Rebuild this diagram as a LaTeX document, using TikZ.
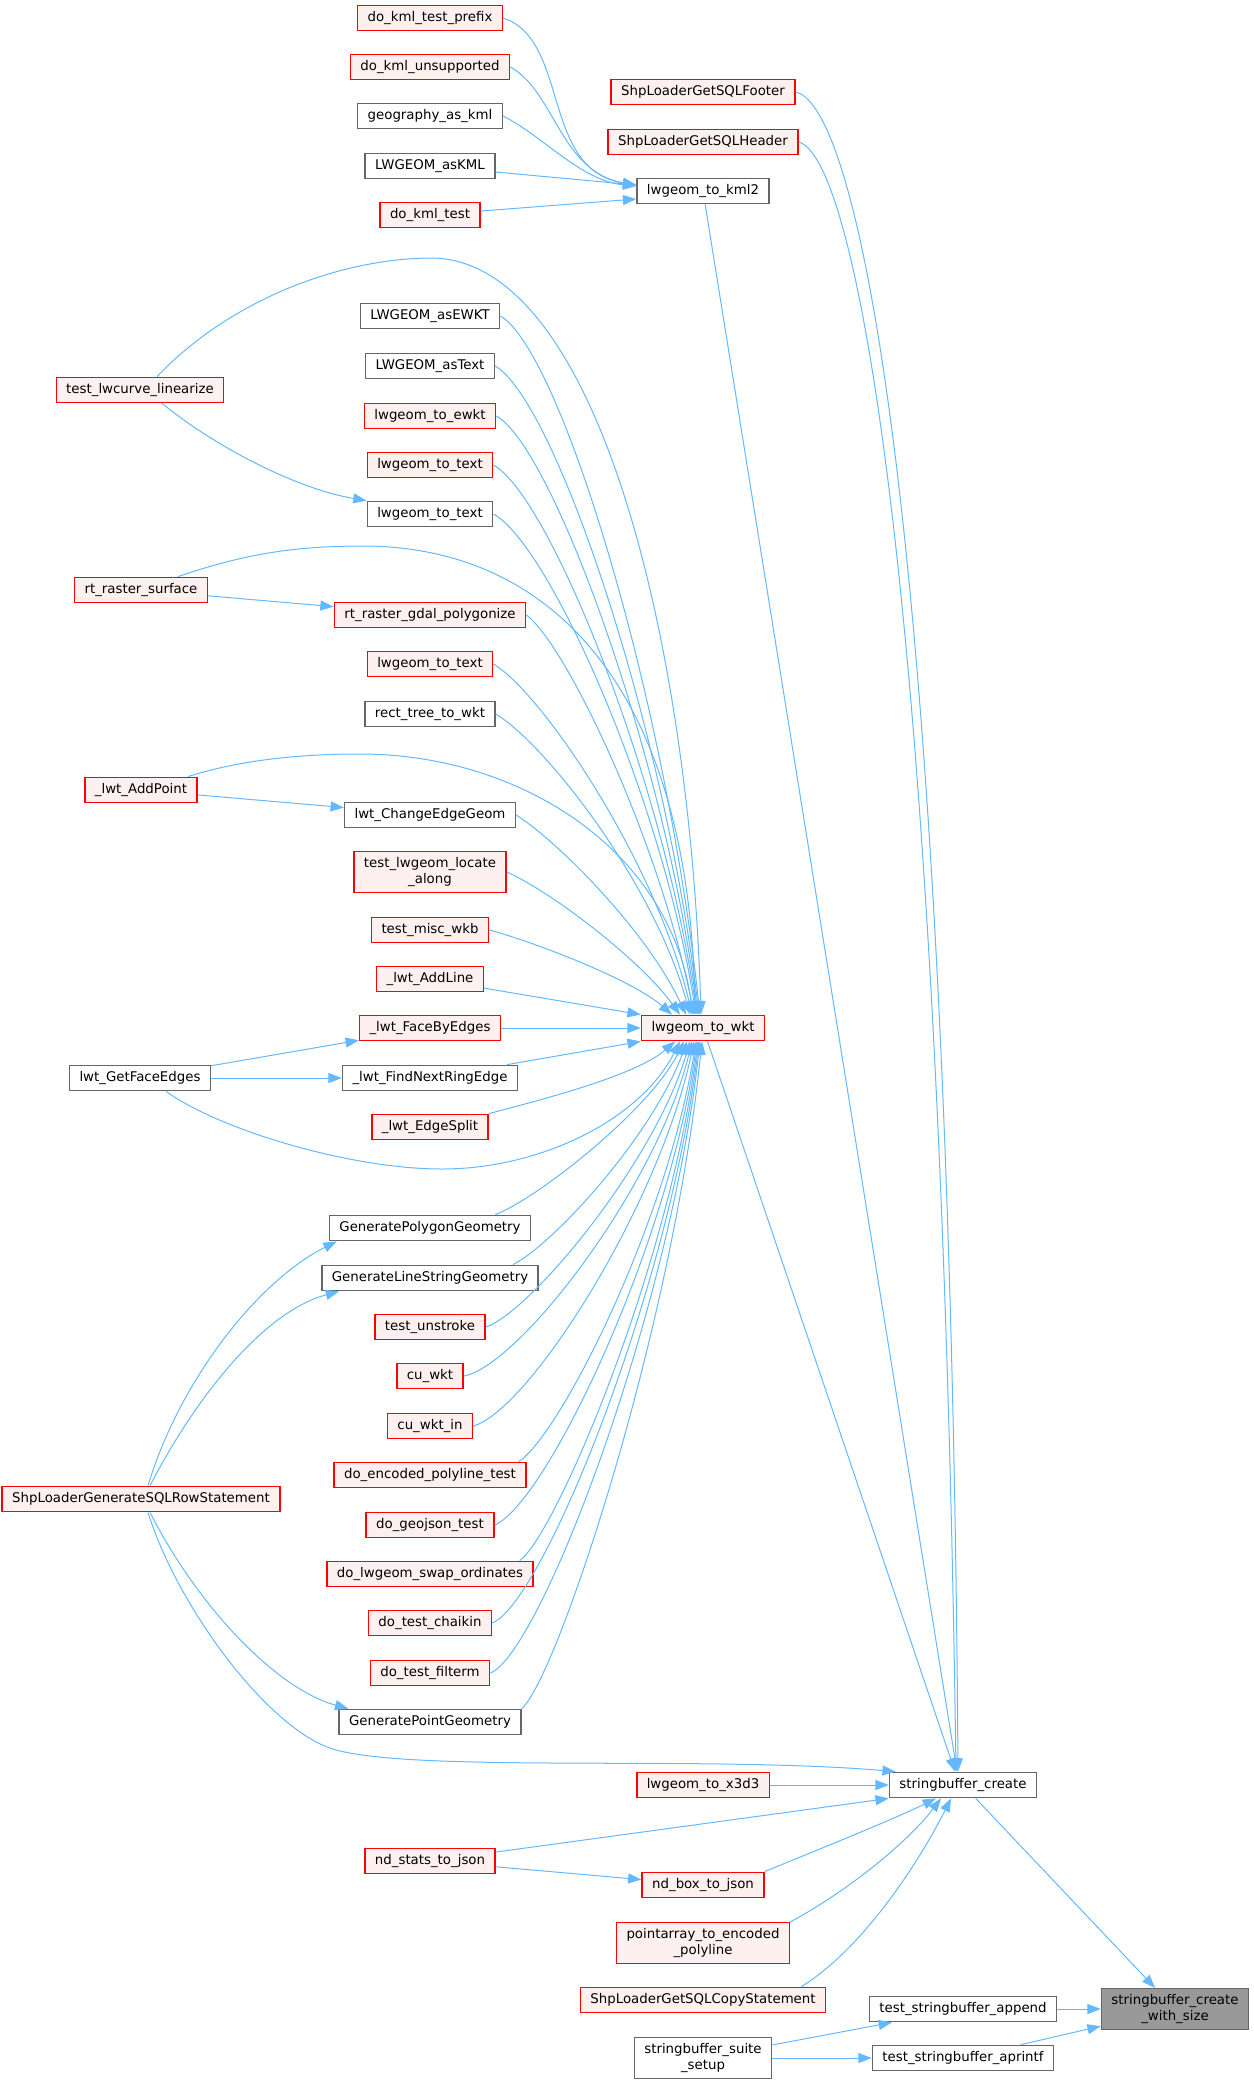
\documentclass[tikz,border=0pt]{standalone}
\usepackage{fontspec}
\setmainfont{DejaVu Sans}
\usetikzlibrary{arrows.meta,calc}
\definecolor{callblue}{HTML}{63B8FF}
\definecolor{boxred}{HTML}{FF0000}
\definecolor{boxpink}{HTML}{FFF0F0}
\definecolor{boxgray}{HTML}{666666}
\definecolor{rootfill}{HTML}{999999}
\tikzset{
  fnbox/.style={draw, rectangle, line width=1.1pt, inner xsep=7.5pt, inner ysep=4.5pt,
    minimum height=19pt, align=center, font=\fontsize{10}{11.5}\selectfont},
  redbox/.style={fnbox, draw=boxred, fill=boxpink},
  whitebox/.style={fnbox, draw=boxgray, fill=white},
  rootbox/.style={fnbox, draw=boxgray, fill=rootfill},
  callarrow/.style={draw=callblue, line width=0.75pt, -{Triangle[length=10pt,width=7.5pt]}}
}
\begin{document}
\begin{tikzpicture}[x=0.75pt, y=-0.75pt]
  \useasboundingbox (0,0) rectangle (1253,2083);
  % left column
  \node[redbox] (lwcurve) at (140,390) {test\_lwcurve\_linearize};
  \node[redbox] (rtsurface) at (141,590) {rt\_raster\_surface};
  \node[redbox] (addpoint) at (141,790) {\_lwt\_AddPoint};
  \node[whitebox] (getfaceedges) at (140,1078) {lwt\_GetFaceEdges};
  \node[redbox] (sqlrow) at (141,1499) {ShpLoaderGenerateSQLRowStatement};
  % callers of lwgeom_to_kml2 and lwgeom_to_wkt
  \node[redbox] (kmlprefix) at (430,18) {do\_kml\_test\_prefix};
  \node[redbox] (kmlunsup) at (430,67) {do\_kml\_unsupported};
  \node[whitebox] (geokml) at (430,116) {geography\_as\_kml};
  \node[whitebox] (askml) at (430,166) {LWGEOM\_asKML};
  \node[redbox] (kmltest) at (430,215) {do\_kml\_test};
  \node[whitebox] (asewkt) at (430,316) {LWGEOM\_asEWKT};
  \node[whitebox] (astext) at (430,366) {LWGEOM\_asText};
  \node[redbox] (toewkt) at (430,416) {lwgeom\_to\_ewkt};
  \node[redbox] (totexta) at (430,465) {lwgeom\_to\_text};
  \node[whitebox] (totextb) at (430,514) {lwgeom\_to\_text};
  \node[redbox] (polygonize) at (430,615) {rt\_raster\_gdal\_polygonize};
  \node[redbox] (totextc) at (430,664) {lwgeom\_to\_text};
  \node[whitebox] (recttree) at (430,714) {rect\_tree\_to\_wkt};
  \node[whitebox] (changeedge) at (430,815) {lwt\_ChangeEdgeGeom};
  \node[redbox] (locatealong) at (430,872) {test\_lwgeom\_locate\\\_along};
  \node[redbox] (miscwkb) at (430,930) {test\_misc\_wkb};
  \node[redbox] (addline) at (430,979) {\_lwt\_AddLine};
  \node[redbox] (facebyedges) at (430,1028) {\_lwt\_FaceByEdges};
  \node[whitebox] (findring) at (430,1078) {\_lwt\_FindNextRingEdge};
  \node[redbox] (edgesplit) at (430,1127) {\_lwt\_EdgeSplit};
  \node[whitebox] (genpoly) at (430,1228) {GeneratePolygonGeometry};
  \node[whitebox] (genline) at (430,1278) {GenerateLineStringGeometry};
  \node[redbox] (unstroke) at (430,1327) {test\_unstroke};
  \node[redbox] (cuwkt) at (430,1376) {cu\_wkt};
  \node[redbox] (cuwktin) at (430,1426) {cu\_wkt\_in};
  \node[redbox] (encpoly) at (430,1475) {do\_encoded\_polyline\_test};
  \node[redbox] (geojson) at (430,1525) {do\_geojson\_test};
  \node[redbox] (swapord) at (430,1574) {do\_lwgeom\_swap\_ordinates};
  \node[redbox] (chaikin) at (430,1623) {do\_test\_chaikin};
  \node[redbox] (filterm) at (430,1673) {do\_test\_filterm};
  \node[whitebox] (genpoint) at (430,1722) {GeneratePointGeometry};
  \node[redbox] (ndstats) at (430,1861) {nd\_stats\_to\_json};
  % middle column
  \node[redbox] (sqlfooter) at (703,92) {ShpLoaderGetSQLFooter};
  \node[redbox] (sqlheader) at (703,142) {ShpLoaderGetSQLHeader};
  \node[whitebox] (tokml) at (703,191) {lwgeom\_to\_kml2};
  \node[redbox] (towkt) at (703,1028) {lwgeom\_to\_wkt};
  \node[redbox] (tox3d) at (703,1785) {lwgeom\_to\_x3d3};
  \node[redbox] (ndbox) at (703,1885) {nd\_box\_to\_json};
  \node[redbox] (ptarray) at (703,1943) {pointarray\_to\_encoded\\\_polyline};
  \node[redbox] (sqlcopy) at (703,2000) {ShpLoaderGetSQLCopyStatement};
  \node[whitebox] (suitesetup) at (703,2058) {stringbuffer\_suite\\\_setup};
  % right columns
  \node[whitebox] (sbcreate) at (963,1785) {stringbuffer\_create};
  \node[whitebox] (sbappend) at (963,2009) {test\_stringbuffer\_append};
  \node[whitebox] (sbaprintf) at (963,2058) {test\_stringbuffer\_aprintf};
  \node[rootbox] (sbsize) at (1175,2009) {stringbuffer\_create\\\_with\_size};

  % into lwgeom_to_kml2
  \draw[callarrow] (kmlprefix.east) .. controls +(67,22) and +(-96,-15) .. ($(tokml.west)+(0,-6)$);
  \draw[callarrow] (kmlunsup.east) .. controls +(45,25) and +(-76,-13) .. ($(tokml.west)+(0,-6)$);
  \draw[callarrow] (geokml.east) .. controls +(40,20) and +(-55,-5) .. ($(tokml.west)+(0,-5)$);
  \draw[callarrow] (askml) -- ($(tokml.west)+(0,-6)$);
  \draw[callarrow] (kmltest) -- ($(tokml.west)+(0,8)$);

  % into lwgeom_to_wkt, from above
  \draw[callarrow] ($(lwcurve.north)+(17,0)$) .. controls (230,300) and (340,258) .. (433,258)
    .. controls (600,262) and (690,650) .. ($(towkt.north)+(-2,0)$);
  \draw[callarrow] (asewkt.east) .. controls +(60,35) and +(-35,-320) .. ($(towkt.north)+(-3,0)$);
  \draw[callarrow] (astext.east) .. controls +(60,35) and +(-35,-290) .. ($(towkt.north)+(-4,0)$);
  \draw[callarrow] (toewkt.east) .. controls +(55,30) and +(-35,-265) .. ($(towkt.north)+(-5,0)$);
  \draw[callarrow] (totexta.east) .. controls +(55,30) and +(-35,-240) .. ($(towkt.north)+(-6,0)$);
  \draw[callarrow] (totextb.east) .. controls +(55,30) and +(-35,-220) .. ($(towkt.north)+(-7,0)$);
  \draw[callarrow] ($(rtsurface.north)+(37,0)$) .. controls (250,552) and (300,546) .. (366,546)
    .. controls (560,548) and (690,700) .. ($(towkt.north)+(-8,0)$);
  \draw[callarrow] (polygonize.east) .. controls +(40,30) and +(-35,-175) .. ($(towkt.north)+(-9,0)$);
  \draw[callarrow] (totextc.east) .. controls +(50,30) and +(-35,-150) .. ($(towkt.north)+(-11,0)$);
  \draw[callarrow] (recttree.east) .. controls +(50,30) and +(-35,-130) .. ($(towkt.north)+(-13,0)$);
  \draw[callarrow] ($(addpoint.north)+(47,0)$) .. controls (240,760) and (300,754) .. (360,754)
    .. controls (520,754) and (670,850) .. ($(towkt.north)+(-10,0)$);
  \draw[callarrow] (changeedge.east) .. controls +(40,25) and +(-40,-85) .. ($(towkt.north)+(-17,0)$);
  \draw[callarrow] (locatealong.east) .. controls +(45,20) and +(-40,-55) .. ($(towkt.north)+(-23,0)$);
  \draw[callarrow] (miscwkb.east) .. controls +(45,12) and +(-40,-35) .. ($(towkt.north)+(-31,0)$);
  \draw[callarrow] (addline) -- (towkt.north west);
  \draw[callarrow] (facebyedges) -- (towkt);
  \draw[callarrow] (findring) -- (towkt.south west);

  % into lwgeom_to_wkt, from below
  \draw[callarrow] (edgesplit.north east) .. controls +(45,-12) and +(-40,35) .. ($(towkt.south)+(-28,0)$);
  \draw[callarrow] ($(getfaceedges.south)+(26,0)$) .. controls (220,1130) and (350,1169) .. (442,1169)
    .. controls (540,1169) and (640,1120) .. ($(towkt.south)+(-23,0)$);
  \draw[callarrow] ($(genpoly.north east)+(-36,0)$) .. controls +(40,-15) and +(-35,70) .. ($(towkt.south)+(-19,0)$);
  \draw[callarrow] ($(genline.north east)+(-26,0)$) .. controls +(40,-20) and +(-35,95) .. ($(towkt.south)+(-16,0)$);
  \draw[callarrow] (unstroke.east) .. controls +(45,-15) and +(-35,120) .. ($(towkt.south)+(-13,0)$);
  \draw[callarrow] (cuwkt.east) .. controls +(55,-10) and +(-35,145) .. ($(towkt.south)+(-11,0)$);
  \draw[callarrow] (cuwktin.east) .. controls +(55,-15) and +(-35,165) .. ($(towkt.south)+(-9,0)$);
  \draw[callarrow] ($(encpoly.north east)+(-8,0)$) .. controls +(40,-25) and +(-30,185) .. ($(towkt.south)+(-7,0)$);
  \draw[callarrow] (geojson.east) .. controls +(50,-20) and +(-30,210) .. ($(towkt.south)+(-6,0)$);
  \draw[callarrow] ($(swapord.north east)+(-14,0)$) .. controls +(35,-25) and +(-30,230) .. ($(towkt.south)+(-5,0)$);
  \draw[callarrow] (chaikin.east) .. controls +(50,-20) and +(-30,250) .. ($(towkt.south)+(-4,0)$);
  \draw[callarrow] (filterm.east) .. controls +(50,-20) and +(-30,270) .. ($(towkt.south)+(-3,0)$);
  \draw[callarrow] (genpoint.north east) .. controls +(35,-30) and +(-30,290) .. ($(towkt.south)+(-1,0)$);

  % second level callers
  \draw[callarrow] ($(lwcurve.south)+(22,0)$) .. controls +(58,47) and +(-66,-11) .. (totextb.north west);
  \draw[callarrow] (rtsurface) -- (polygonize);
  \draw[callarrow] (addpoint) -- (changeedge);
  \draw[callarrow] (getfaceedges) -- (facebyedges);
  \draw[callarrow] (getfaceedges) -- (findring);
  \draw[callarrow] ($(sqlrow.north)+(7,0)$) .. controls +(32,-106) and +(-78,39) .. ($(genpoly.south west)+(8,0)$);
  \draw[callarrow] ($(sqlrow.north)+(9,0)$) .. controls +(50,-96) and +(-72,19) .. ($(genline.south west)+(18,0)$);
  \draw[callarrow] ($(sqlrow.south)+(9,0)$) .. controls +(50,98) and +(-70,-19) .. ($(genpoint.north west)+(10,0)$);
  \draw[callarrow] ($(sqlrow.south)+(7,0)$) .. controls (175,1600) and (260,1720) .. (327,1747)
    .. controls (395,1774) and (700,1755) .. ($(sbcreate.north west)+(7,0)$);
  \draw[callarrow] (ndstats) -- (ndbox);

  % into stringbuffer_create
  \draw[callarrow] (sqlfooter.east) .. controls +(70,15) and +(-8,-1172) .. ($(sbcreate.north)+(-5,0)$);
  \draw[callarrow] (sqlheader.east) .. controls +(60,15) and +(-16,-1152) .. ($(sbcreate.north)+(-7,0)$);
  \draw[callarrow] (tokml) -- ($(sbcreate.north)+(-6,0)$);
  \draw[callarrow] (towkt) -- ($(sbcreate.north)+(-8,0)$);
  \draw[callarrow] (tox3d) -- (sbcreate);
  \draw[callarrow] (ndstats) -- (sbcreate.south west);
  \draw[callarrow] (ndbox.north east) .. controls +(56,-23) and +(-45,22) .. ($(sbcreate.south)+(-27,0)$);
  \draw[callarrow] (ptarray.north east) .. controls +(61,-33) and +(-32,42) .. ($(sbcreate.south)+(-22,0)$);
  \draw[callarrow] ($(sqlcopy.north east)+(-25,0)$) .. controls +(62,-38) and +(-31,62) .. ($(sbcreate.south)+(-12,0)$);

  % into stringbuffer_create_with_size
  \draw[callarrow] (sbcreate) -- (sbsize);
  \draw[callarrow] (sbappend) -- (sbsize);
  \draw[callarrow] (sbaprintf) -- (sbsize);
  \draw[callarrow] (suitesetup) -- (sbappend);
  \draw[callarrow] (suitesetup) -- (sbaprintf);
\end{tikzpicture}
\end{document}
